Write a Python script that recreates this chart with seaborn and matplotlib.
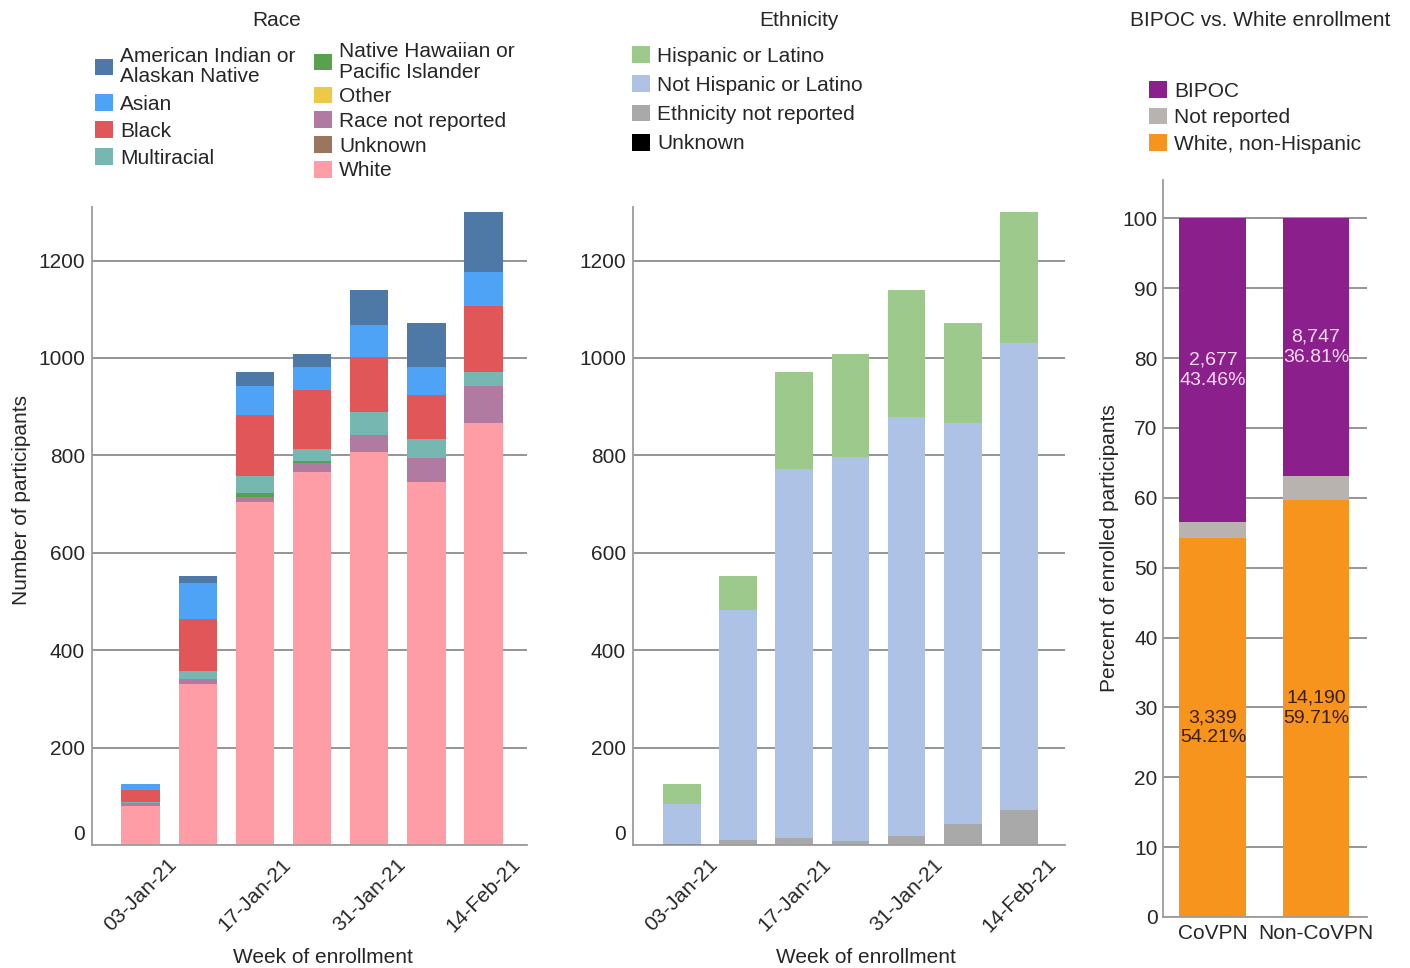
import numpy as np
import matplotlib
matplotlib.use("Agg")
import matplotlib.pyplot as plt
import matplotlib.transforms as mtransforms
from matplotlib.patches import Patch
import seaborn as sns

# ---- data -------------------------------------------------------------
weeks = ["03-Jan-21", "10-Jan-21", "17-Jan-21", "24-Jan-21",
         "31-Jan-21", "07-Feb-21", "14-Feb-21"]
tick_weeks = ["03-Jan-21", "17-Jan-21", "31-Jan-21", "14-Feb-21"]

race_labels = ["American Indian or\nAlaskan Native", "Asian", "Black", "Multiracial",
               "Native Hawaiian or\nPacific Islander", "Other", "Race not reported",
               "Unknown", "White"]
aian = [0, 14, 29, 26, 71, 91, 123]
asian = [13, 74, 59, 48, 66, 57, 69]
black = [24, 106, 125, 120, 113, 91, 136]
multiracial = [3, 18, 36, 25, 47, 38, 28]
nhpi = [0, 0, 7, 5, 0, 0, 0]
other = [0, 0, 0, 0, 0, 0, 0]
race_not_reported = [6, 10, 11, 19, 36, 50, 77]
race_unknown = [0, 0, 0, 0, 0, 0, 0]
white = [80, 330, 704, 765, 806, 745, 866]

eth_labels = ["Hispanic or Latino", "Not Hispanic or Latino",
              "Ethnicity not reported", "Unknown"]
hispanic = [42, 70, 199, 211, 261, 205, 269]
not_hispanic = [81, 472, 758, 789, 859, 824, 958]
eth_not_reported = [0, 10, 14, 8, 19, 43, 72]
eth_unknown = [3, 0, 0, 0, 0, 0, 0]

groups = ["CoVPN", "Non-CoVPN"]
bipoc_labels = ["BIPOC", "Not reported", "White, non-Hispanic"]
bipoc_n = [2677, 8747]
not_reported_n = [143, 828]
white_nh_n = [3339, 14190]

# ---- colours ----------------------------------------------------------
race_colors = ["#4e79a7", "#4fa3f7", "#e15759", "#76b7b2", "#59a14f",
               "#edc948", "#b07aa1", "#9c755f", "#ff9da7"]
eth_colors = ["#9dc98c", "#adc2e4", "#a9a9a9", "#000000"]
bipoc_colors = ["#8b1f8b", "#b8b3af", "#f7941d"]

GRID = "#8c8c8c"
SPINE = "#9c9c9c"
FS = 15

sns.set_style("white")
plt.rcParams["font.family"] = ["Liberation Sans", "DejaVu Sans"]
plt.rcParams["font.size"] = FS

W, H = 1410, 968
fig = plt.figure(figsize=(W / 100, H / 100), dpi=100)


def px_axes(x0, y0, x1, y1):
    return fig.add_axes([x0 / W, 1 - y1 / H, (x1 - x0) / W, (y1 - y0) / H])


def stacked(ax, cats, layers, colors, width):
    """Stack layers (listed bottom -> top) by drawing running totals top-down."""
    cum = np.cumsum(np.array(layers, dtype=float), axis=0)
    for i in range(len(layers) - 1, -1, -1):
        sns.barplot(x=cats, y=cum[i], order=cats, color=colors[i], saturation=1,
                    width=width, linewidth=0, errorbar=None, ax=ax)
    return cum


def style_axes(ax):
    ax.set_axisbelow(True)
    ax.yaxis.grid(True, color=GRID, linewidth=1.3)
    ax.xaxis.grid(False)
    for side in ("top", "right"):
        ax.spines[side].set_visible(False)
    for side in ("left", "bottom"):
        ax.spines[side].set_color(SPINE)
        ax.spines[side].set_linewidth(1.3)
    ax.tick_params(axis="both", length=0, labelsize=FS)
    ax.set_xlabel("")
    ax.set_ylabel("")


def lift_zero_label(ax, px):
    tick = ax.yaxis.get_major_ticks()[0]
    lab = tick.label1
    lab.set_transform(lab.get_transform() +
                      mtransforms.ScaledTranslation(0, px / 100, fig.dpi_scale_trans))


# ---- Race panel -------------------------------------------------------
ax1 = px_axes(92, 207, 527, 845)
race_layers_bottom_up = [white, race_unknown, race_not_reported, other, nhpi,
                         multiracial, black, asian, aian]
race_colors_bottom_up = race_colors[::-1]
stacked(ax1, weeks, race_layers_bottom_up, race_colors_bottom_up, 0.67)
style_axes(ax1)
ax1.set_xlim(-0.85, 6.76)
ax1.set_ylim(0, 1310)
ax1.set_yticks(range(0, 1201, 200))
ax1.set_xticks([0, 2, 4, 6])
ax1.set_xticklabels(tick_weeks, rotation=45, ha="center", va="top")
ax1.tick_params(axis="x", pad=7)
ax1.tick_params(axis="y", pad=5)
ax1.set_ylabel("Number of participants", fontsize=FS)
ax1.yaxis.set_label_coords(-0.14, 0.54)
ax1.set_xlabel("Week of enrollment", fontsize=FS)
ax1.xaxis.set_label_coords(0.531, -0.161)
lift_zero_label(ax1, 12)

# ---- Ethnicity panel --------------------------------------------------
ax2 = px_axes(633, 207, 1065, 845)
eth_layers_bottom_up = [eth_unknown, eth_not_reported, not_hispanic, hispanic]
eth_colors_bottom_up = eth_colors[::-1]
stacked(ax2, weeks, eth_layers_bottom_up, eth_colors_bottom_up, 0.67)
style_axes(ax2)
ax2.set_xlim(-0.87, 6.82)
ax2.set_ylim(0, 1310)
ax2.set_yticks(range(0, 1201, 200))
ax2.set_xticks([0, 2, 4, 6])
ax2.set_xticklabels(tick_weeks, rotation=45, ha="center", va="top")
ax2.tick_params(axis="x", pad=7)
ax2.tick_params(axis="y", pad=5)
ax2.set_xlabel("Week of enrollment", fontsize=FS)
ax2.xaxis.set_label_coords(0.539, -0.161)
lift_zero_label(ax2, 12)

# ---- BIPOC vs White panel ---------------------------------------------
ax3 = px_axes(1163, 180, 1367, 917)
totals = np.array(white_nh_n) + np.array(not_reported_n) + np.array(bipoc_n)
white_pct = 100 * np.array(white_nh_n) / totals
notrep_pct = 100 * np.array(not_reported_n) / totals
bipoc_pct = 100 * np.array(bipoc_n) / totals
cum = stacked(ax3, groups, [white_pct, notrep_pct, bipoc_pct],
              bipoc_colors[::-1], 0.65)
style_axes(ax3)
ax3.set_xlim(-0.485, 1.495)
ax3.set_ylim(0, 105.5)
ax3.set_yticks(range(0, 101, 10))
ax3.tick_params(axis="x", pad=5)
ax3.tick_params(axis="y", pad=4)
ax3.set_ylabel("Percent of enrolled participants", fontsize=FS)
ax3.yaxis.set_label_coords(-0.215, 0.5)

for i in range(len(groups)):
    ax3.text(i, (cum[1][i] + cum[2][i]) / 2, f"{bipoc_n[i]:,}\n{bipoc_pct[i]:.2f}%",
             ha="center", va="center", fontsize=14, color="#f6dcf2", linespacing=1.25)
    ax3.text(i, cum[0][i] / 2, f"{white_nh_n[i]:,}\n{white_pct[i]:.2f}%",
             ha="center", va="center", fontsize=14, color="#3a1e00", linespacing=1.25)

# ---- titles -----------------------------------------------------------
fig.text(277 / W, 1 - 20 / H, "Race", ha="center", va="center", fontsize=FS)
fig.text(799 / W, 1 - 20 / H, "Ethnicity", ha="center", va="center", fontsize=FS)
fig.text(1260 / W, 1 - 20 / H, "BIPOC vs. White enrollment", ha="center",
         va="center", fontsize=FS)

# ---- legends ----------------------------------------------------------
leg_kw = dict(loc="upper left", frameon=False, fontsize=FS, handlelength=0.85,
              handleheight=0.85, handletextpad=0.35, borderpad=0, borderaxespad=0)


def add_legend(labels, colors, x, y, spacing):
    handles = [Patch(facecolor=c, edgecolor="none") for c in colors]
    leg = fig.legend(handles, labels, bbox_to_anchor=(x / W, 1 - y / H),
                     labelspacing=spacing, **leg_kw)
    for t in leg.get_texts():
        t.set_linespacing(1.1)
    return leg


add_legend(race_labels[:4], race_colors[:4], 95, 47, 0.36)
add_legend(race_labels[4:], race_colors[4:], 314, 42, 0.25)
add_legend(eth_labels, eth_colors, 632, 46, 0.47)
add_legend(bipoc_labels, bipoc_colors, 1149, 81, 0.34)

fig.savefig("out.png", dpi=100)
